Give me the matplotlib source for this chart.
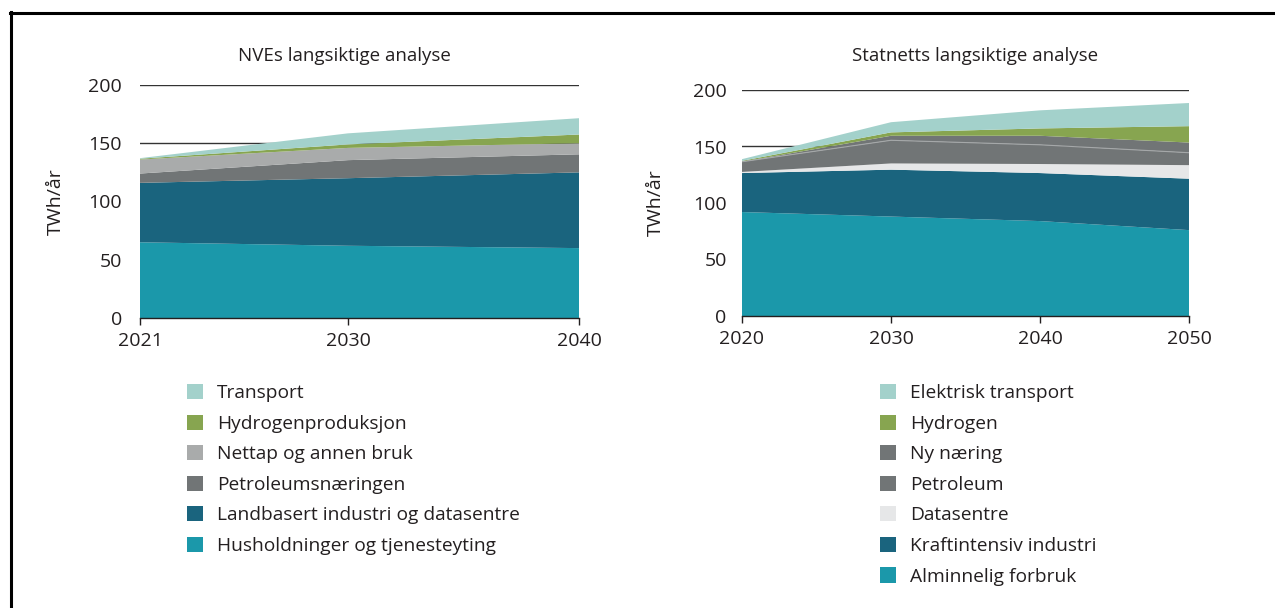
import matplotlib
matplotlib.use("Agg")
import matplotlib.pyplot as plt
from matplotlib.patches import Patch
from matplotlib.lines import Line2D
import numpy as np

plt.rcParams['font.family'] = ['Open Sans', 'DejaVu Sans']

# NVE - left panel
nve_years = [2021, 2030, 2040]
nve_hush = [65, 62, 60]
nve_land = [51, 58, 65]
nve_petro = [8, 15.5, 15.5]
nve_nettap = [12, 10.5, 9.5]
nve_hydrogen = [0.7, 3, 7.5]
nve_transport = [0.5, 9.5, 14]
nve_labels = ["Husholdninger og tjenesteyting", "Landbasert industri og datasentre",
              "Petroleumsnæringen", "Nettap og annen bruk", "Hydrogenproduksjon", "Transport"]

# Statnett - right panel
st_years = [2020, 2030, 2040, 2050]
st_alm = [92, 88, 84, 76]
st_kraft = [34.5, 41.5, 42.5, 45.5]
st_data = [1, 5.5, 8, 12]
st_petro = [9, 20.5, 17, 11]
st_ny = [0, 4, 8, 9]
st_hydrogen = [0.8, 3, 6.5, 14.5]
st_transport = [1.5, 9, 16, 20.5]
st_labels = ["Alminnelig forbruk", "Kraftintensiv industri", "Datasentre", "Petroleum",
             "Ny næring", "Hydrogen", "Elektrisk transport"]

nve_colors = ["#1b98aa", "#1a647e", "#717576", "#a9abab", "#87a550", "#a3d1cb"]
st_colors = ["#1b98aa", "#1a647e", "#e6e7e8", "#717576", "#717576", "#87a550", "#a3d1cb"]

W, H = 1275, 608
fig = plt.figure(figsize=(W / 100, H / 100), dpi=100)

# frame lines (left and top)
fig.add_artist(Line2D([11 / W, 11 / W], [0, 1 - 12 / H], color="black", lw=2.2))
fig.add_artist(Line2D([10 / W, 1], [1 - 13 / H, 1 - 13 / H], color="black", lw=2.2))

text_col = "#231f20"


def px_axes(x0, y_top, x1, y_bottom):
    return fig.add_axes([x0 / W, 1 - y_bottom / H, (x1 - x0) / W, (y_bottom - y_top) / H])


def style(ax, years, pad):
    ax.set_ylim(0, 200)
    ax.set_xlim(years[0], years[-1])
    ax.set_yticks([0, 50, 100, 150, 200])
    ax.set_xticks(years)
    ax.set_axisbelow(True)
    ax.yaxis.grid(True, color="#333333", lw=1.0)
    for s in ["top", "right", "left"]:
        ax.spines[s].set_visible(False)
    ax.spines["bottom"].set_color(text_col)
    ax.spines["bottom"].set_linewidth(1.0)
    ax.spines["bottom"].set_zorder(5)
    ax.tick_params(axis="y", length=0, pad=pad, labelsize=14, labelcolor=text_col)
    ax.tick_params(axis="x", length=5, width=1, direction="out", pad=5,
                   labelsize=14, labelcolor=text_col, color=text_col)
    ax.set_ylabel("TWh/år", fontsize=14, color=text_col)


# left
ax1 = px_axes(140, 85, 579, 318)
ax1.stackplot(nve_years, nve_hush, nve_land, nve_petro, nve_nettap, nve_hydrogen,
              nve_transport, colors=nve_colors, lw=0)
style(ax1, nve_years, 13)
ax1.yaxis.set_label_coords(-0.172, 0.5)
fig.text(344 / W, 1 - 56 / H, "NVEs langsiktige analyse", ha="center", va="center",
         fontsize=13.5, color=text_col)

# right
ax2 = px_axes(742, 90, 1189, 316)
ax2.stackplot(st_years, st_alm, st_kraft, st_data, st_petro, st_ny, st_hydrogen,
              st_transport, colors=st_colors, lw=0)
# faint separator between Petroleum and Ny naering
sep = np.array(st_alm) + np.array(st_kraft) + np.array(st_data) + np.array(st_petro)
ax2.plot(st_years, sep, color="#a5a8a9", lw=0.8)
style(ax2, st_years, 11)
ax2.yaxis.set_label_coords(-0.172, 0.5)
fig.text(975 / W, 1 - 56 / H, "Statnetts langsiktige analyse", ha="center", va="center",
         fontsize=13.5, color=text_col)

# legends
def legend(labels, colors, x, y):
    handles = [Patch(facecolor=c, edgecolor="none") for c in colors][::-1]
    fig.legend(handles, labels[::-1], loc="upper left", bbox_to_anchor=(x / W, 1 - y / H),
               frameon=False, fontsize=13.8, handlelength=0.85, handleheight=0.85,
               handletextpad=0.7, labelspacing=0.64, borderaxespad=0, borderpad=0,
               labelcolor=text_col)


legend(nve_labels, nve_colors, 187, 384)
legend(st_labels, st_colors, 880, 384)

fig.savefig("out.png", dpi=100)
